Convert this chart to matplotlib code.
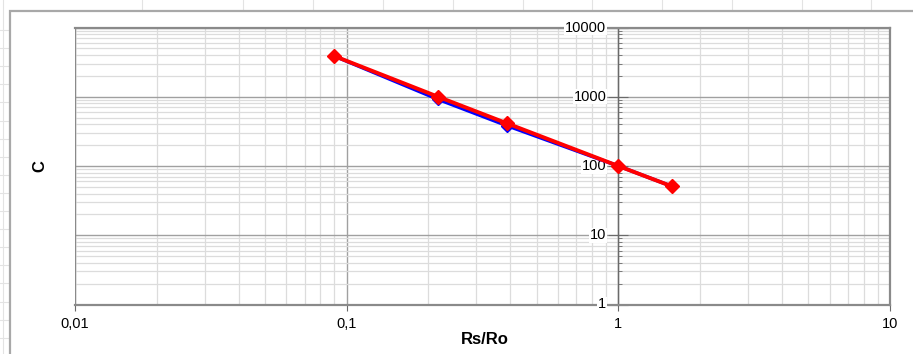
import matplotlib.pyplot as plt
from matplotlib.patches import Rectangle
from matplotlib.ticker import LogLocator, FixedLocator, FixedFormatter, NullFormatter
from matplotlib.transforms import offset_copy

# Données
rs_ro = [0.09, 0.217, 0.388, 1.0, 1.58]
c_bleu = [3875, 918, 384, 100, 50.6]
c_rouge = [3875, 1000, 415, 100, 50.6]

x_ticks = [0.01, 0.1, 1, 10]
x_labels = ['0,01', '0,1', '1', '10']
y_ticks = [1, 10, 100, 1000, 10000]
y_labels = ['1', '10', '100', '1000', '10000']

plt.rcParams['font.family'] = ['Liberation Sans', 'DejaVu Sans']

W, H = 913, 354
fig = plt.figure(figsize=(W / 100, H / 100), dpi=100)

# Fond tableur (cellules)
bg = fig.add_axes([0, 0, 1, 1], zorder=0)
bg.set_xlim(0, W)
bg.set_ylim(H, 0)
bg.axis('off')
for xc in [3, 142, 243, 313, 383, 453, 523, 592, 662, 732, 802, 871]:
    bg.plot([xc, xc], [0, H], color='#e3e3e3', lw=0.8)
yr = 30
while yr < H:
    bg.plot([0, W], [yr, yr], color='#e3e3e3', lw=0.8)
    yr += 18.1
# Zone du graphique
bg.add_patch(Rectangle((9.5, 11), W + 20, H, facecolor='white',
                       edgecolor='#a8a8a8', lw=1.6, zorder=5))

left, right, top, bottom = 75, 890, 27.5, 304.5
ax = fig.add_axes([left / W, 1 - bottom / H, (right - left) / W, (bottom - top) / H], zorder=2)
ax.set_xscale('log')
ax.set_yscale('log')
ax.set_xlim(0.01, 10)
ax.set_ylim(1, 10000)

# Grille
ax.grid(which='major', color='#a0a0a0', lw=1.0)
ax.grid(which='minor', color='#dcdcdc', lw=0.9)
ax.xaxis.set_minor_locator(LogLocator(base=10, subs=range(2, 10)))
ax.yaxis.set_minor_locator(LogLocator(base=10, subs=range(2, 10)))
ax.xaxis.set_minor_formatter(NullFormatter())
ax.yaxis.set_minor_formatter(NullFormatter())

# Courbes
ax.plot(rs_ro, c_bleu, color='#0000ff', lw=2.5, marker='D', markersize=6, zorder=4)
ax.plot(rs_ro, c_rouge, color='#ff0000', lw=2.8, marker='D', markersize=7, zorder=5)

# Axes
for s in ['top', 'right', 'bottom']:
    ax.spines[s].set_color('#8a8a8a')
    ax.spines[s].set_linewidth(1.6)
ax.spines['left'].set_position(('data', 1))
ax.spines['left'].set_color('#6a6a6a')
ax.spines['left'].set_linewidth(1.0)
ax.axvline(0.01, color='#8a8a8a', lw=1.6)

ax.xaxis.set_major_locator(FixedLocator(x_ticks))
ax.xaxis.set_major_formatter(FixedFormatter(x_labels))
ax.yaxis.set_major_locator(FixedLocator(y_ticks))
ax.tick_params(axis='x', which='major', length=4, color='#6a6a6a', labelsize=10.5, pad=5)
ax.tick_params(axis='x', which='minor', length=0)
ax.tick_params(axis='y', which='major', direction='inout', length=14, color='#6a6a6a', labelleft=False)
ax.tick_params(axis='y', which='minor', direction='in', length=3, color='#6a6a6a')

# Étiquettes de l'axe Y (fond blanc, à gauche de l'axe placé en x=1)
trans = offset_copy(ax.transData, fig=fig, x=-12, y=0, units='dots')
for yv, lab in zip(y_ticks, y_labels):
    ax.text(1, yv, lab, transform=trans, ha='right', va='center', fontsize=10.5, zorder=3,
            bbox=dict(facecolor='white', edgecolor='none', pad=0.5))

fig.text(485 / W, 1 - 340 / H, 'Rs/Ro', ha='center', va='center', fontsize=12, fontweight='bold')
fig.text(40 / W, 1 - 166 / H, 'C', ha='center', va='center', rotation=90, fontsize=12, fontweight='bold')

fig.savefig('out.png', dpi=100)
